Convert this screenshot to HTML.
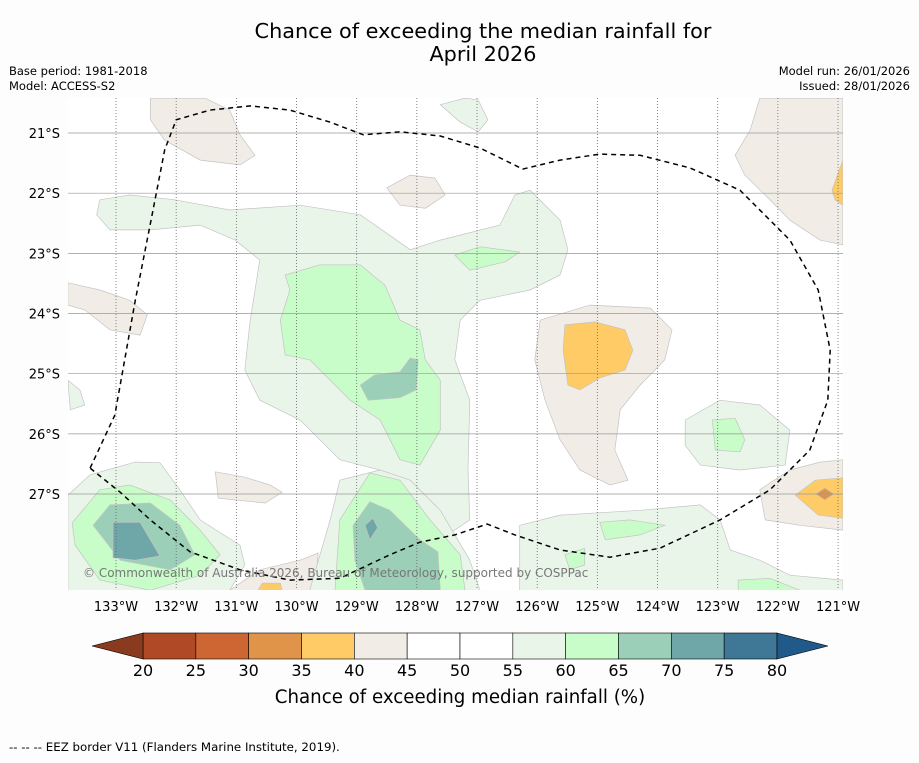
<!DOCTYPE html>
<html><head><meta charset="utf-8"><style>
body{margin:0;background:#fdfdfd;font-family:"Liberation Sans","DejaVu Sans",sans-serif;}
svg text{font-family:"DejaVu Sans","Liberation Sans",sans-serif;}
</style></head><body>
<svg id="chart" width="919" height="758" xmlns="http://www.w3.org/2000/svg">
<rect width="919" height="758" fill="#fdfdfd"/>
<text x="483" y="38" font-size="20.8" text-anchor="middle">Chance of exceeding the median rainfall for</text>
<text x="483" y="61" font-size="20.8" text-anchor="middle">April 2026</text>
<text x="9" y="75" font-size="11.5">Base period: 1981-2018</text>
<text x="9" y="90" font-size="11.5">Model: ACCESS-S2</text>
<text x="910" y="75" font-size="11.5" text-anchor="end">Model run: 26/01/2026</text>
<text x="910" y="90" font-size="11.5" text-anchor="end">Issued: 28/01/2026</text>
<defs><clipPath id="mapclip"><rect x="68" y="98" width="775" height="492"/></clipPath></defs>
<rect x="68" y="98" width="775" height="492" fill="#fff"/>
<g id="fills" clip-path="url(#mapclip)"></g>
<g id="grid" clip-path="url(#mapclip)"></g>
<g id="eez" clip-path="url(#mapclip)"></g>
<text x="83" y="577" font-size="12" fill="#777">© Commonwealth of Australia 2026, Bureau of Meteorology, supported by COSPPac</text>
<g id="axes"></g>
<g id="colorbar"></g>
<text x="460" y="703" font-size="18.2" text-anchor="middle">Chance of exceeding median rainfall (%)</text>
<text x="9" y="751" font-size="11.8">--  --  -- EEZ border V11 (Flanders Marine Institute, 2019).</text>
</svg>
<script>
const lonTicks=[133,132,131,130,129,128,127,126,125,124,123,122,121];
const latTicks=[21,22,23,24,25,26,27];
const cbLevels=[20,25,30,35,40,45,50,55,60,65,70,75,80];
const cbColors=["#b04a26","#cd6633","#e0944a","#fecb67","#f1ede6","#ffffff","#ffffff","#eaf5ea","#c8fcc8","#9ccfb8","#6fa7a9","#3e7896"];
const cbUnder="#8a3b1f", cbOver="#1f5a8a";
const beige=[
[[132.43,20.42],[131.52,20.42],[131.11,20.62],[130.94,21.03],[130.69,21.37],[130.94,21.53],[131.60,21.45],[132.19,21.12],[132.43,20.78]],
[[128.50,21.91],[128.11,21.70],[127.70,21.75],[127.53,22.03],[127.86,22.25],[128.28,22.20]],
[[133.80,23.49],[133.27,23.61],[132.77,23.78],[132.48,24.02],[132.60,24.36],[133.10,24.27],[133.52,23.94],[133.80,23.86]],
[[122.30,20.42],[120.92,20.42],[120.92,22.86],[121.30,22.78],[121.80,22.45],[122.13,22.11],[122.55,21.70],[122.71,21.37],[122.46,20.95]],
[[125.95,24.11],[125.12,23.86],[124.12,23.91],[123.76,24.27],[123.88,24.77],[124.29,25.19],[124.62,25.60],[124.71,26.27],[124.49,26.77],[124.79,26.85],[125.29,26.60],[125.62,26.10],[125.87,25.44],[126.04,24.77]],
[[122.30,26.93],[121.80,26.60],[121.30,26.47],[120.92,26.43],[120.92,27.60],[121.63,27.52],[122.21,27.43]],
[[131.35,26.63],[130.86,26.72],[130.44,26.85],[130.24,26.97],[130.52,27.15],[131.30,27.07]],
[[131.11,28.60],[130.61,28.26],[129.94,28.10],[129.64,27.98],[129.69,28.60]]];
const orange=[
[[125.54,24.19],[125.04,24.14],[124.54,24.27],[124.41,24.61],[124.54,24.94],[124.96,25.07],[125.29,25.27],[125.49,25.19],[125.57,24.61]],
[[121.10,21.95],[120.92,21.45],[120.92,22.20],[121.05,22.11]],
[[121.71,27.02],[121.38,26.77],[120.92,26.73],[120.92,27.40],[121.33,27.35]],
[[130.64,28.60],[130.57,28.48],[130.27,28.48],[130.24,28.60]]];
const darkOrange=[[[121.37,27.00],[121.22,26.90],[121.07,27.00],[121.22,27.10]]];
const lightGreen=[
[[133.27,22.11],[132.77,22.03],[132.02,22.11],[131.11,22.28],[129.94,22.20],[128.94,22.36],[128.11,22.94],[127.61,22.78],[126.62,22.53],[126.37,22.03],[126.12,21.95],[125.62,22.45],[125.49,22.94],[125.62,23.36],[126.12,23.61],[126.95,23.78],[127.28,24.11],[127.37,24.77],[127.12,25.44],[127.15,26.60],[127.12,27.43],[127.61,27.76],[128.28,27.27],[128.61,26.60],[129.28,26.43],[129.94,25.77],[130.61,25.44],[130.86,24.94],[130.77,24.11],[130.61,23.11],[131.02,22.78],[131.60,22.53],[132.43,22.61],[133.10,22.61],[133.32,22.36]],
[[127.61,20.53],[127.20,20.42],[126.98,20.45],[126.82,20.78],[126.98,20.98],[127.28,20.82]],
[[133.80,27.02],[133.43,26.68],[132.68,26.47],[132.27,26.48],[131.94,26.93],[131.60,27.43],[130.94,27.85],[130.86,28.18],[131.11,28.60],[133.80,28.60]],
[[129.78,28.60],[129.44,27.43],[129.28,26.77],[128.61,26.60],[128.11,26.77],[127.61,27.27],[127.12,28.10],[126.95,28.60]],
[[126.29,27.52],[125.62,27.35],[124.29,27.27],[123.29,27.18],[122.96,27.43],[122.79,27.93],[122.30,28.10],[121.80,28.35],[120.92,28.43],[120.92,28.60],[126.29,28.60]],
[[123.54,25.77],[122.96,25.44],[122.30,25.52],[121.80,25.94],[121.88,26.52],[122.63,26.60],[123.29,26.52],[123.54,26.19]],
[[133.80,25.11],[133.60,25.27],[133.52,25.52],[133.76,25.60]]];
const green=[
[[130.19,23.36],[129.61,23.19],[128.94,23.19],[128.53,23.53],[128.28,24.11],[127.95,24.27],[127.86,24.77],[127.61,25.11],[127.61,25.94],[127.95,26.52],[128.28,26.43],[128.61,25.77],[129.11,25.44],[129.44,25.11],[129.78,24.77],[130.19,24.69],[130.27,24.11],[130.11,23.61]],
[[127.37,23.03],[126.95,22.89],[126.29,22.98],[126.53,23.14],[127.12,23.28]],
[[133.73,27.48],[133.27,26.93],[132.77,26.85],[132.10,27.10],[131.60,27.60],[131.27,28.01],[131.60,28.35],[132.43,28.60],[133.27,28.43],[133.68,27.85]],
[[129.28,27.43],[128.78,26.65],[128.28,26.77],[127.78,27.43],[127.28,28.01],[127.20,28.60],[129.36,28.60]],
[[124.96,27.47],[124.46,27.43],[123.88,27.52],[124.29,27.68],[124.87,27.76]],
[[125.54,28.01],[125.21,27.90],[125.21,28.18],[125.46,28.26]],
[[122.66,28.43],[122.13,28.40],[121.63,28.60],[122.66,28.60]],
[[123.09,25.77],[122.71,25.74],[122.55,26.10],[122.63,26.30],[123.04,26.27]]];
const teal=[
[[128.94,25.19],[128.70,25.02],[128.28,24.97],[128.11,24.74],[127.98,24.77],[128.01,25.27],[128.28,25.40],[128.81,25.44]],
[[133.38,27.52],[133.10,27.18],[132.43,27.15],[131.94,27.52],[131.69,28.01],[132.10,28.26],[132.93,28.10]],
[[129.06,27.52],[128.78,27.13],[128.45,27.27],[127.95,27.76],[127.65,27.96],[127.61,28.60],[128.86,28.60],[129.03,28.10]]];
const darkTeal=[
[[133.05,27.47],[132.60,27.47],[132.27,28.03],[132.68,28.10],[133.05,28.06]],
[[128.86,27.52],[128.73,27.40],[128.65,27.56],[128.78,27.76]]];
const eezLine=[[133.43,26.57],[133.02,25.69],[132.68,23.78],[132.40,22.36],[132.19,21.28],[132.00,20.78],[131.44,20.62],[130.77,20.55],[130.11,20.62],[129.44,20.82],[128.89,21.03],[128.28,20.98],[127.61,21.05],[126.95,21.25],[126.24,21.60],[125.62,21.45],[124.96,21.35],[124.29,21.37],[123.46,21.58],[122.63,21.95],[121.80,22.78],[121.33,23.61],[121.13,24.61],[121.17,25.44],[121.47,26.27],[122.13,26.93],[122.96,27.43],[123.96,27.90],[124.79,28.05],[125.62,27.93],[126.37,27.68],[126.83,27.50],[127.37,27.68],[127.95,27.80],[128.45,28.01],[129.28,28.40],[130.11,28.43],[130.94,28.26],[131.77,27.96],[132.43,27.43],[132.93,26.97],[133.43,26.57]];

const NS="http://www.w3.org/2000/svg";
const px=60.17;
const xS=lon=>116+(133-lon)*px;
const yS=lat=>133+(lat-21)*px;
function mk(tag,attrs,parent){const e=document.createElementNS(NS,tag);for(const k in attrs)e.setAttribute(k,attrs[k]);parent.appendChild(e);return e;}
const fills=document.getElementById('fills');
function drawSet(set,color,name){
  set.forEach(poly=>{
    const p=mk('polygon',{points:poly.map(q=>xS(q[0]).toFixed(1)+','+yS(q[1]).toFixed(1)).join(' '),fill:color,stroke:'#c4c4c4','stroke-width':0.7},fills);
    
    
  });
}
drawSet(beige,cbColors[4],'contour-40-45');
drawSet(orange,cbColors[3],'contour-35-40');
drawSet(darkOrange,cbColors[2],'contour-30-35');
drawSet(lightGreen,cbColors[7],'contour-55-60');
drawSet(green,cbColors[8],'contour-60-65');
drawSet(teal,cbColors[9],'contour-65-70');
drawSet(darkTeal,cbColors[10],'contour-70-75');

const grid=document.getElementById('grid');
lonTicks.forEach(l=>{const ln=mk('line',{x1:xS(l),x2:xS(l),y1:98,y2:590,stroke:'#666','stroke-width':0.8,'stroke-dasharray':'1,2'},grid);

});
latTicks.forEach(l=>{const ln=mk('line',{x1:68,x2:843,y1:yS(l),y2:yS(l),stroke:'#999','stroke-width':0.7},grid);

});

const eez=mk('polyline',{points:eezLine.map(q=>xS(q[0]).toFixed(1)+','+yS(q[1]).toFixed(1)).join(' '),fill:'none',stroke:'#000','stroke-width':1.5,'stroke-dasharray':'5,4'},document.getElementById('eez'));



const axes=document.getElementById('axes');
lonTicks.forEach(l=>{const t=mk('text',{x:xS(l),y:611,'font-size':13,'text-anchor':'middle'},axes);t.textContent=l+'°W';

});
latTicks.forEach(l=>{const t=mk('text',{x:60,y:yS(l)+5,'font-size':13,'text-anchor':'end'},axes);t.textContent=l+'°S';

});

const cb=document.getElementById('colorbar');
const cx0=143,cx1=777,cy=633,ch=26;
const cw=(cx1-cx0)/cbColors.length;
cbColors.forEach((c,i)=>{const r=mk('rect',{x:cx0+i*cw,y:cy,width:cw,height:ch,fill:c,stroke:'#000','stroke-width':0.6},cb);

});
const u=mk('polygon',{points:`${cx0},${cy} 92,${cy+ch/2} ${cx0},${cy+ch}`,fill:cbUnder,stroke:'#000','stroke-width':0.6},cb);


const o=mk('polygon',{points:`${cx1},${cy} 828,${cy+ch/2} ${cx1},${cy+ch}`,fill:cbOver,stroke:'#000','stroke-width':0.6},cb);


cbLevels.forEach((v,i)=>{const t=mk('text',{x:cx0+i*cw,y:676,'font-size':16,'text-anchor':'middle'},cb);t.textContent=v;

});
</script>
</body></html>
